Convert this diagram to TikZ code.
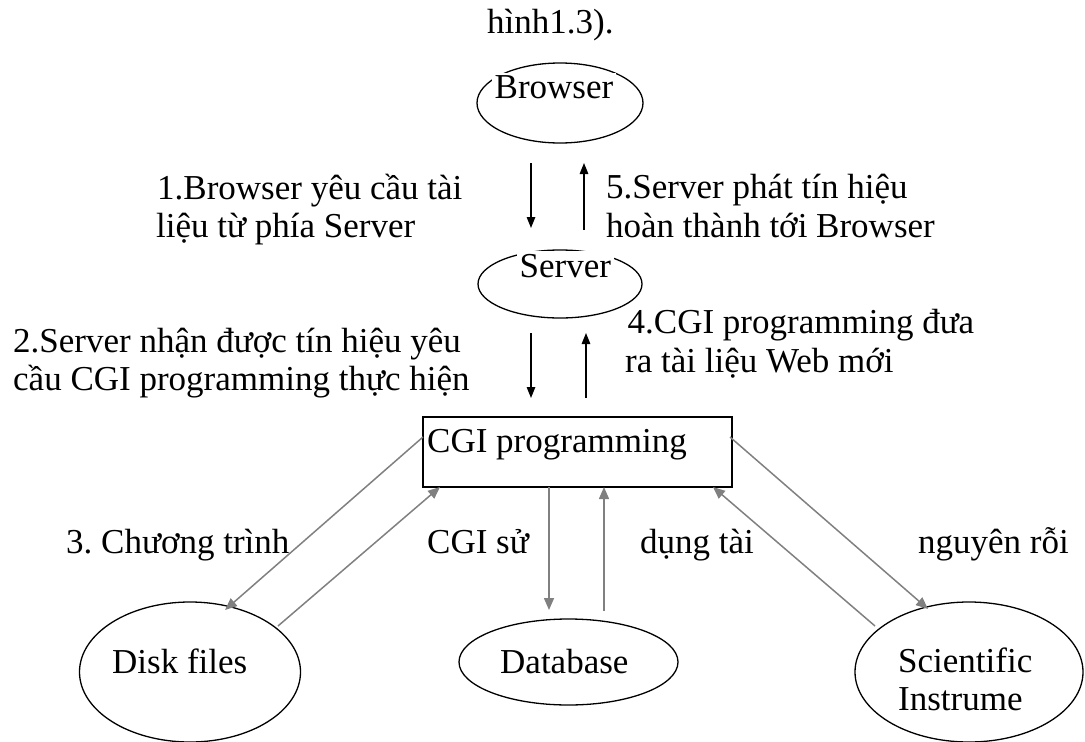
\documentclass[tikz,border=0pt]{standalone}
\usepackage{fontspec}
\setmainfont{Liberation Serif}
\usetikzlibrary{arrows.meta,shapes.geometric}
\definecolor{linkgray}{RGB}{128,128,128}
\frenchspacing
\begin{document}
\begin{tikzpicture}[x=1pt,y=-1pt,
  txt/.style={anchor=base west,inner sep=0pt,font=\fontsize{35}{40}\selectfont},
  masked/.style={txt,fill=white,inner sep=2.5pt},
  blob/.style={draw,ellipse,line width=1.3pt,inner sep=0pt},
  procbox/.style={draw,rectangle,line width=1.6pt,inner sep=0pt},
  flow/.style={line width=1.4pt,-{Triangle[length=11pt,width=8.5pt]}},
  res/.style={draw=linkgray,line width=1.5pt,-{Triangle[length=12pt,width=10pt,color=linkgray]}}
]
\useasboundingbox (0,0) rectangle (1085,742);

% caption line
\node[txt] (title) at (487,33) {hình1.3).};

% shapes
\node[blob,minimum width=166pt,minimum height=80pt] (browser) at (560,103) {};
\node[blob,minimum width=164pt,minimum height=68pt] (server) at (560,284) {};
\node[procbox,minimum width=309pt,minimum height=70pt] (cgi) at (577.5,452) {};
\node[blob,minimum width=221pt,minimum height=140pt] (disk) at (190,672) {};
\node[blob,minimum width=219pt,minimum height=86pt] (db) at (568.5,662) {};
\node[blob,minimum width=228pt,minimum height=140pt] (sci) at (969,672) {};

% labels inside shapes
\node[masked] (browserlbl) at (492,98) {Browser};
\node[masked] (serverlbl) at (517,277) {Server};
\node[txt] (cgilbl) at (427,452) {CGI programming};
\node[txt] (disklbl) at (112,673) {Disk files};
\node[txt] (dblbl) at (500,673) {Database};
\node[txt] (scilblA) at (898,672) {Scientific};
\node[txt] (scilblB) at (898,710) {Instrume};

% step descriptions
\node[txt] (s1a) at (157,199) {1.Browser yêu cầu tài};
\node[txt] (s1b) at (156,237) {liệu từ phía Server};
\node[txt] (s5a) at (606,198) {5.Server phát tín hiệu};
\node[txt] (s5b) at (606,237) {hoàn thành tới Browser};
\node[txt] (s2a) at (13,352) {2.Server nhận được tín hiệu yêu};
\node[txt] (s2b) at (13,390) {cầu CGI programming thực hiện};
\node[masked] (s4a) at (625,333) {4.CGI programming đưa};
\node[txt] (s4b) at (625,372) {ra tài liệu Web mới};
\node[txt] (s3a) at (66,553) {3. Chương trình};
\node[txt] (s3b) at (427,553) {CGI sử};
\node[txt] (s3c) at (640,553) {dụng tài};
\node[txt] (s3d) at (918,553) {nguyên rỗi};

% ends of the request/response arrows
\coordinate (reqA) at (531,163); \coordinate (reqB) at (531,228);
\coordinate (ackA) at (584,230); \coordinate (ackB) at (584,163);
\coordinate (callA) at (531,333); \coordinate (callB) at (531,398);
\coordinate (retA) at (586,398); \coordinate (retB) at (586,333);

\draw[flow] (reqA) -- (reqB);
\draw[flow] (ackA) -- (ackB);
\draw[flow] (callA) -- (callB);
\draw[flow] (retA) -- (retB);

% resource access arrows
\coordinate (cgiL) at (423,437);  \coordinate (diskIn) at (225,610);
\coordinate (diskOut) at (278,626); \coordinate (cgiBL) at (440,487);
\coordinate (cgiBM) at (549,487); \coordinate (dbIn) at (549,610);
\coordinate (dbOut) at (604,611); \coordinate (cgiBM2) at (604,487);
\coordinate (cgiR) at (730,437);  \coordinate (sciIn) at (928,609);
\coordinate (sciOut) at (875,626); \coordinate (cgiBR) at (713,487);

\draw[res] (cgiL) -- (diskIn);
\draw[res] (diskOut) -- (cgiBL);
\draw[res] (cgiBM) -- (dbIn);
\draw[res] (dbOut) -- (cgiBM2);
\draw[res] (cgiR) -- (sciIn);
\draw[res] (sciOut) -- (cgiBR);
\end{tikzpicture}
\end{document}
